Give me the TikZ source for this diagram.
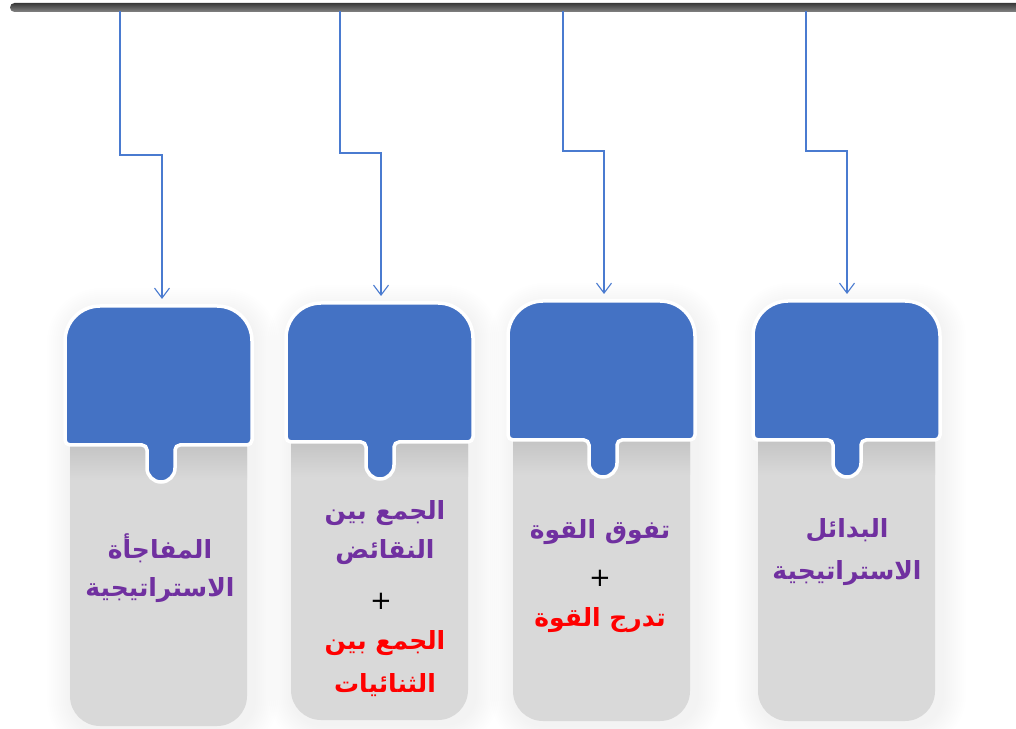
\documentclass[tikz,border=0pt]{standalone}
\usepackage{fontspec}
\usetikzlibrary{arrows.meta}
\TeXXeTstate=1
\newfontfamily\arabicfont[Script=Arabic]{DejaVu Sans}
\newfontfamily\plusfont{DejaVu Sans}
\definecolor{cardblue}{HTML}{4472C4}
\definecolor{linkblue}{HTML}{4A7BD0}
\definecolor{cardgray}{HTML}{D9D9D9}
\definecolor{txtpurple}{HTML}{7030A0}
\definecolor{txtred}{HTML}{FF0000}
\tikzset{
  link/.style={draw=linkblue, line width=1.1pt, -{Straight Barb[length=10pt,width=15pt,line width=1.1pt]}, shorten >=7pt},
  arline/.style={font=\arabicfont\bfseries\fontsize{25}{29}\selectfont, inner sep=0pt},
  ptxt/.style={arline, text=txtpurple},
  rtxt/.style={arline, text=txtred},
  plus/.style={font=\plusfont\fontsize{26}{28}\selectfont, inner sep=0pt, text=black},
  bluepart/.style={fill=cardblue, draw=white, line width=3.5pt},
}
\newcommand\drawcard[5]{%
  \pgfmathsetmacro\cL{#1}%
  \pgfmathsetmacro\cR{#1+187}%
  \pgfmathsetmacro\cT{728-#2}%
  \pgfmathsetmacro\cB{728-#2-139}%
  \pgfmathsetmacro\cGB{728-#3}%
  \pgfmathsetmacro\cC{#4}%
  \pgfmathsetmacro\cTab{728-#2-139-37}%
  % soft shadow
  \foreach \k in {2,4,...,24}{%
    \fill[black, opacity=0.0045, rounded corners=30+\k]
      (\cL+6-\k, \cGB-4-\k) rectangle (\cR+2+\k, \cT-6+\k);
  }
  % gray body
  \fill[cardgray, rounded corners=30]
    (\cL+5, \cB+100) -- (\cL+5, \cGB) -- (\cR-5, \cGB) -- (\cR-5, \cB+100) -- cycle;
  \shade[top color=black!10!cardgray, bottom color=cardgray]
    (\cL+5, \cB-35) rectangle (\cR-5, \cB+1);
  % blue head with tab
  \path[bluepart]
    (\cL, \cB+5) -- (\cL, \cT-35)
    arc[start angle=180, end angle=90, radius=35] -- (\cR-35, \cT)
    arc[start angle=90, end angle=0, radius=35] -- (\cR, \cB+5)
    arc[start angle=0, end angle=-90, radius=5] -- (\cC+19, \cB)
    arc[start angle=90, end angle=180, radius=5] -- (\cC+14, \cTab+14)
    arc[start angle=0, end angle=-180, radius=14] -- (\cC-14, \cB-5)
    arc[start angle=0, end angle=90, radius=5] -- (\cL+5, \cB)
    arc[start angle=270, end angle=180, radius=5] -- cycle;
  \coordinate (#5) at (\cC, \cT);
}
\begin{document}
\begin{tikzpicture}[x=1pt, y=1pt]
  \useasboundingbox (0,0) rectangle (1016,728);
  \clip (0,0) rectangle (1016,728);
  \fill[white] (0,0) rectangle (1016,728);

  % top bar
  \shade[top color=black!78, bottom color=black!48, rounded corners=4.5pt]
    (10, 728-3) rectangle (1040, 728-12);

  % cards
  \drawcard{65}{306}{726}{161}{c1}
  \drawcard{286}{303}{720}{380}{c2}
  \drawcard{508}{301}{721}{603}{c3}
  \drawcard{753}{301}{721}{847}{c4}

  % connector start and jog points
  \coordinate (s1) at (120, 728-11);
  \coordinate (s2) at (340, 728-11);
  \coordinate (s3) at (563, 728-11);
  \coordinate (s4) at (806, 728-11);
  \coordinate (j1) at (162, 728-155);
  \coordinate (j2) at (381, 728-153);
  \coordinate (j3) at (604, 728-151);
  \coordinate (j4) at (847, 728-151);
  \coordinate (e1) at (162, 728-306);
  \coordinate (e2) at (381, 728-303);
  \coordinate (e3) at (604, 728-301);
  \coordinate (e4) at (847, 728-301);

  \draw[link] (s1) |- (j1) -- (e1);
  \draw[link] (s2) |- (j2) -- (e2);
  \draw[link] (s3) |- (j3) -- (e3);
  \draw[link] (s4) |- (j4) -- (e4);

  % card 1 text
  \node[ptxt] (t1a) at (160, 728-548) {\beginR المفاجأة\endR};
  \node[ptxt] (t1b) at (160, 728-590) {\beginR الاستراتيجية\endR};

  % card 2 text
  \node[ptxt] (t2a) at (385, 728-513) {\beginR الجمع بين\endR};
  \node[ptxt] (t2b) at (385, 728-552) {\beginR النقائض\endR};
  \node[plus] (t2c) at (381, 728-601) {+};
  \node[rtxt] (t2d) at (385, 728-643) {\beginR الجمع بين\endR};
  \node[rtxt] (t2e) at (385, 728-685) {\beginR الثنائيات\endR};

  % card 3 text
  \node[ptxt] (t3a) at (600, 728-532) {\beginR تفوق القوة\endR};
  \node[plus] (t3b) at (600, 728-578) {+};
  \node[rtxt] (t3c) at (600, 728-620) {\beginR تدرج القوة\endR};

  % card 4 text
  \node[ptxt] (t4a) at (847, 728-530) {\beginR البدائل\endR};
  \node[ptxt] (t4b) at (847, 728-573) {\beginR الاستراتيجية\endR};
\end{tikzpicture}
\end{document}
